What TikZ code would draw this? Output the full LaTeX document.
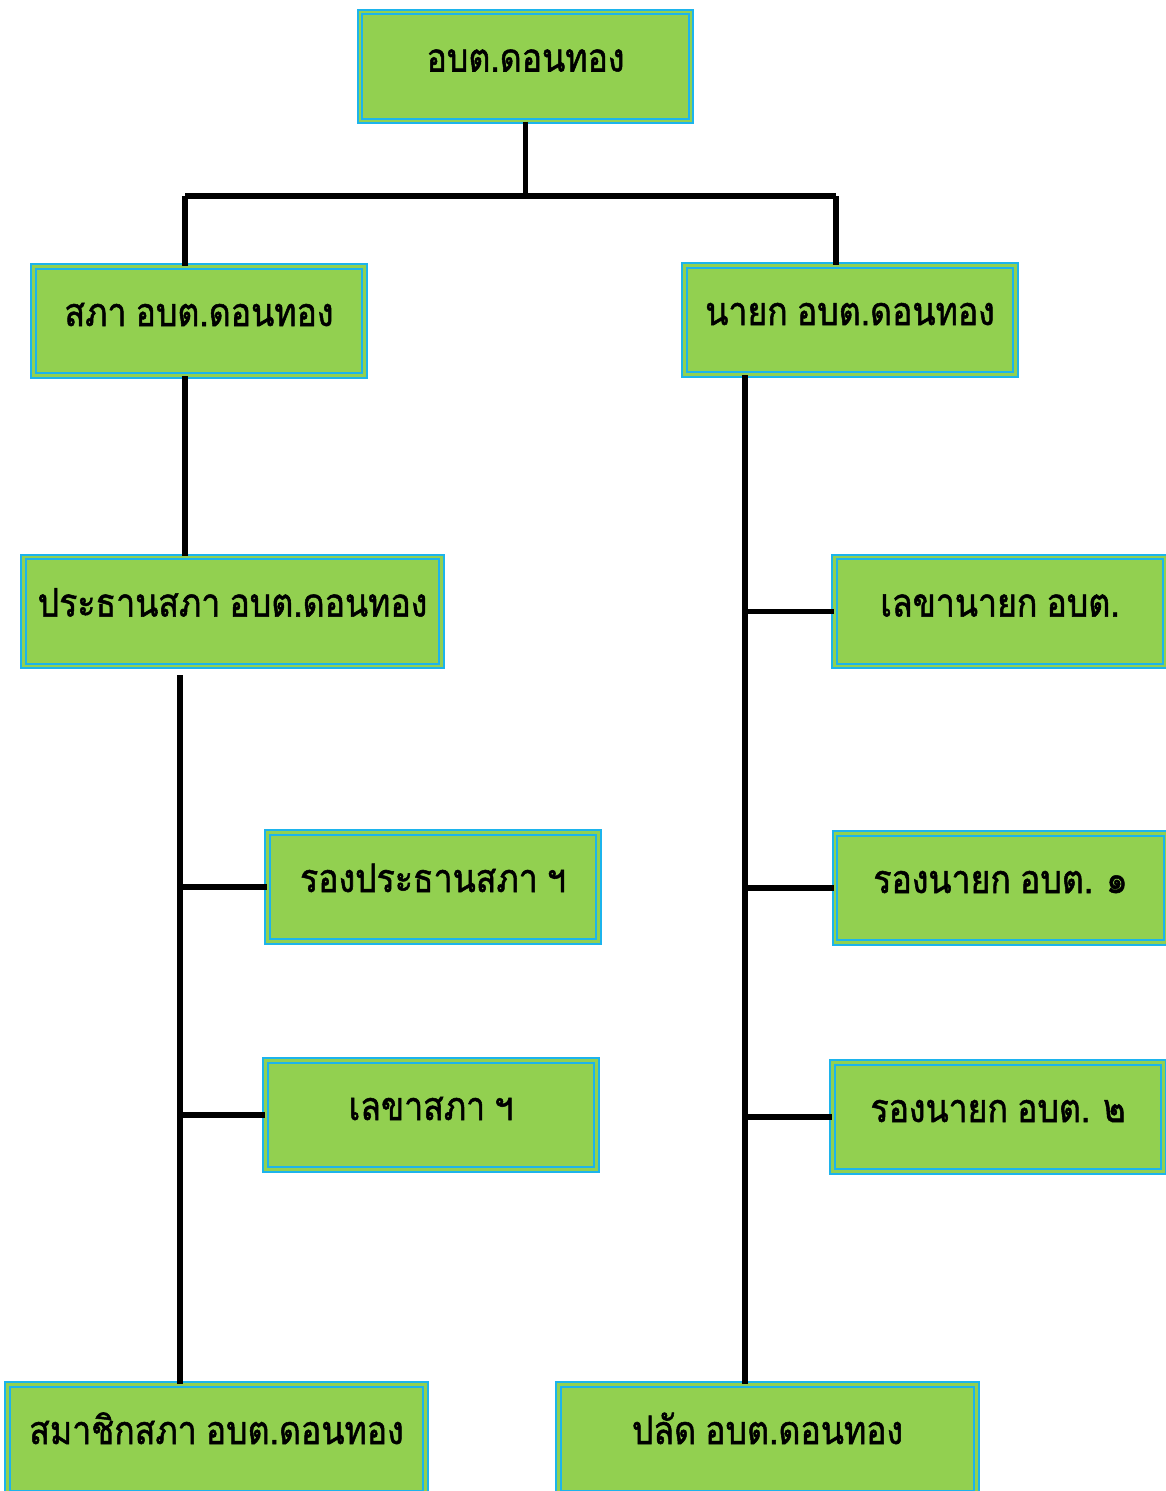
\documentclass[tikz,border=0pt]{standalone}
\usepackage{fontspec}
\newfontfamily\thaifont[Script=Thai,FakeStretch=0.86,FakeBold=1.3,WordSpace=0.8]{Loma}
\usepackage{tikz}
\usepackage{xcolor}
\definecolor{boxgreen}{HTML}{92D050}
\definecolor{boxcyan}{HTML}{1CB4EC}
\tikzset{
  unit/.style={draw=boxcyan, double=boxgreen, double distance=0.75pt, line width=0.55pt,
    fill=boxgreen, font=\thaifont\fontsize{11.2}{13}\selectfont, inner xsep=0pt,
    minimum width=33.1mm, minimum height=10.9mm, text height=2.6mm, text depth=1.6mm},
  wideunit/.style={unit, minimum width=41.8mm},
  link/.style={draw=black, line width=1.6pt}
}

\begin{document}
\begin{tikzpicture}[x=0.1mm,y=-0.1mm]
  \useasboundingbox (0,0) rectangle (1166,1491);

  \node[unit] (ObTo) at (525.5,66.5) {อบต.ดอนทอง};

  \node[unit] (SaPh) at (199,321) {สภา อบต.ดอนทอง};
  \node[unit] (NaYo) at (850,320) {นายก อบต.ดอนทอง};

  % %council side
  \node[wideunit] (PrSa) at (232.5,611.5) {ประธานสภา อบต.ดอนทอง};
  \node[unit] (RoPr) at (433,887) {รองประธานสภา ฯ};
  \node[unit] (LeSa) at (431,1115) {เลขาสภา ฯ};
  \node[wideunit] (SaMa) at (216.5,1439) {สมาชิกสภา อบต.ดอนทอง};

  % %executive side
  \node[unit] (LeNa) at (1000,611.5) {เลขานายก อบต.};
  \node[unit] (RoNa1) at (1000.5,888) {รองนายก อบต. ๑};
  \node[unit] (RoNa2) at (998,1117) {รองนายก อบต. ๒};
  \node[wideunit] (PaLa) at (767.5,1439) {ปลัด อบต.ดอนทอง};

  \coordinate (JnL) at (185,196);
  \coordinate (JnR) at (836,196);
  \draw[link] (ObTo.south) |- (JnL);
  \draw[link] (ObTo.south) |- (JnR);
  \draw[link] (JnL) -- (JnL |- SaPh.north);
  \draw[link] (JnR) -- (JnR |- NaYo.north);

  \draw[link] (SaPh.south -| JnL) -- (PrSa.north -| JnL);

  \coordinate (SpL) at (180,675);
  \draw[link] (SpL) -- (SpL |- SaMa.north);
  \draw[link] (SpL |- RoPr.west) -- (RoPr.west);
  \draw[link] (SpL |- LeSa.west) -- (LeSa.west);

  \coordinate (SpR) at (745,375);
  \draw[link] (SpR |- NaYo.south) -- (SpR |- PaLa.north);
  \draw[link] (SpR |- LeNa.west) -- (LeNa.west);
  \draw[link] (SpR |- RoNa1.west) -- (RoNa1.west);
  \draw[link] (SpR |- RoNa2.west) -- (RoNa2.west);

\end{tikzpicture}
\end{document}
